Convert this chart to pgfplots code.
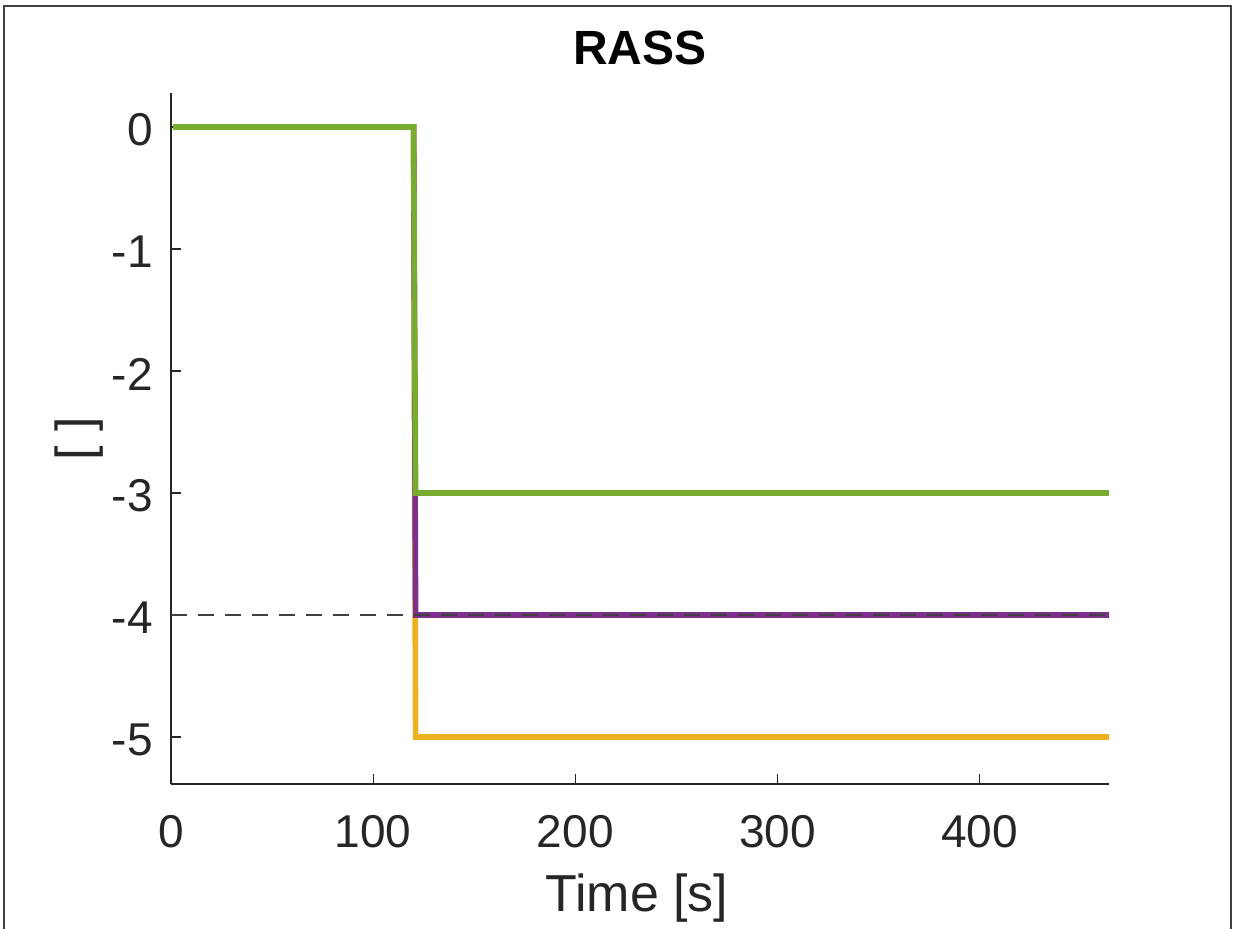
\documentclass[border=0pt]{standalone}
\usepackage{fontspec}
\setmainfont{Liberation Sans}
\usepackage{pgfplots}
\pgfplotsset{compat=1.18}
\definecolor{mgreen}{HTML}{77AC30}
\definecolor{mpurple}{HTML}{7E2F8E}
\definecolor{myellow}{HTML}{EDB120}
\definecolor{axgray}{HTML}{262626}
\definecolor{framegray}{HTML}{404040}

\begin{document}
\begin{tikzpicture}
\begin{axis}[
  at={(0,0)}, anchor=south west,
  scale only axis,
  width=469pt, height=345.5pt,
  xmin=0, xmax=464,
  ymin=-5.385, ymax=0.279,
  axis lines*=left,
  axis line style={axgray, line width=0.7pt},
  tick align=inside,
  major tick length=5pt,
  tick style={axgray, line width=0.6pt},
  xtick={0,100,200,300,400},
  ytick={-5,-4,-3,-2,-1,0},
  /pgf/number format/assume math mode=true,
  ticklabel style={font=\fontsize{23}{27}\selectfont, text=axgray},
  xticklabel style={anchor=base, yshift=-31.5pt},
  yticklabel style={anchor=east, inner sep=0pt, xshift=-9pt, yshift=-1.5pt},
  title={RASS},
  title style={font=\bfseries\fontsize{24}{28}\selectfont, text=black,
    at={(axis description cs:0.5,1.0232)}, anchor=base},
  xlabel={Time [s]},
  xlabel style={font=\fontsize{26}{30}\selectfont, text=axgray,
    at={(axis description cs:0.4968,-0.1852)}, anchor=base},
  ylabel={[ ]},
  ylabel style={font=\fontsize{26}{30}\selectfont, text=axgray,
    at={(axis description cs:-0.0976,0.5)}, anchor=center, rotate=0},
  clip=false,
]
\addplot[myellow, line width=2.8pt] coordinates {(1,0) (120,0) (121,-5) (464,-5)};
\addplot[mpurple, line width=2.8pt] coordinates {(1,0) (120,0) (121,-4) (464,-4)};
\addplot[mgreen, line width=2.8pt] coordinates {(1,0) (120,0) (121,-3) (464,-3)};
\addplot[framegray, line width=1pt, dash pattern=on 8pt off 5.5pt] coordinates {(0,-4) (464,-4)};
\end{axis}
\draw[framegray, line width=1pt] (-83.25pt,-73pt) -- (-83.25pt,388.75pt) -- (530pt,388.75pt) -- (530pt,-73pt);
\pgfresetboundingbox
\useasboundingbox (-85.5pt,-72pt) rectangle (532.5pt,392pt);
\end{tikzpicture}
\end{document}
